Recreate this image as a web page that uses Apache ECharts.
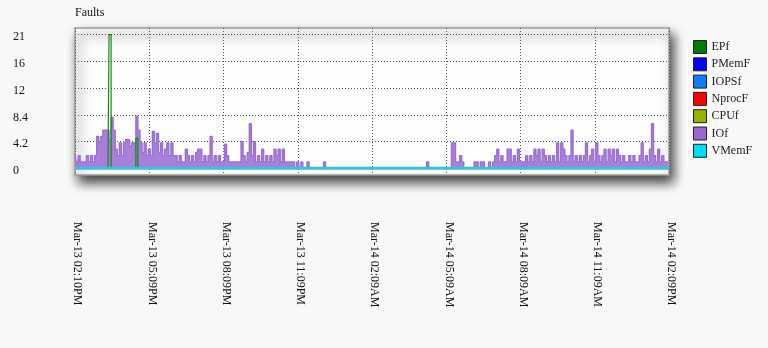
<!DOCTYPE html>
<html>
<head>
<meta charset="utf-8">
<script src="https://cdn.jsdelivr.net/npm/echarts@6/dist/echarts.min.js"></script>
<style>
html,body{margin:0;padding:0;background:#f8f8f8;}
#chart{width:768px;height:348px;}
</style>
</head>
<body>
<div id="chart"></div>
<script>
const chartTitle = 'Faults';
const seriesNames = ['EPf', 'PMemF', 'IOPSf', 'NprocF', 'CPUf', 'IOf', 'VMemF'];
const timeLabels = ['Mar-13 02:10PM', 'Mar-13 05:09PM', 'Mar-13 08:09PM', 'Mar-13 11:09PM',
  'Mar-14 02:09AM', 'Mar-14 05:09AM', 'Mar-14 08:09AM', 'Mar-14 11:09AM', 'Mar-14 02:09PM'];
const yTickLabels = ['0', '4.2', '8.4', '12', '16', '21'];

// one sample every 5 minutes, 289 samples (24 per line = 2 hours)
const EPf = [
  0,0,0,0,0,0,0,0,0,0,0,0, 0,0,0,0,0,21,0,0,0,0,0,0,
  0,0,0,0,0,0,4.7,0,0,0,0,0, 0,0,0,0,0,0,0,0,0,0,0,0,
  0,0,0,0,0,0,0,0,0,0,0,0, 0,0,0,0,0,0,0,0,0,0,0,0,
  0,0,0,0,0,0,0,0,0,0,0,0, 0,0,0,0,0,0,0,0,0,0,0,0,
  0,0,0,0,0,0,0,0,0,0,0,0, 0,0,0,0,0,0,0,0,0,0,0,0,
  0,0,0,0,0,0,0,0,0,0,0,0, 0,0,0,0,0,0,0,0,0,0,0,0,
  0,0,0,0,0,0,0,0,0,0,0,0, 0,0,0,0,0,0,0,0,0,0,0,0,
  0,0,0,0,0,0,0,0,0,0,0,0, 0,0,0,0,0,0,0,0,0,0,0,0,
  0,0,0,0,0,0,0,0,0,0,0,0, 0,0,0,0,0,0,0,0,0,0,0,0,
  0,0,0,0,0,0,0,0,0,0,0,0, 0,0,0,0,0,0,0,0,0,0,0,0,
  0,0,0,0,0,0,0,0,0,0,0,0, 0,0,0,0,0,0,0,0,0,0,0,0,
  0,0,0,0,0,0,0,0,0,0,0,0, 0,0,0,0,0,0,0,0,0,0,0,0,
  0
];
const flatAtZero = [
  0,0,0,0,0,0,0,0,0,0,0,0, 0,0,0,0,0,0,0,0,0,0,0,0,
  0,0,0,0,0,0,0,0,0,0,0,0, 0,0,0,0,0,0,0,0,0,0,0,0,
  0,0,0,0,0,0,0,0,0,0,0,0, 0,0,0,0,0,0,0,0,0,0,0,0,
  0,0,0,0,0,0,0,0,0,0,0,0, 0,0,0,0,0,0,0,0,0,0,0,0,
  0,0,0,0,0,0,0,0,0,0,0,0, 0,0,0,0,0,0,0,0,0,0,0,0,
  0,0,0,0,0,0,0,0,0,0,0,0, 0,0,0,0,0,0,0,0,0,0,0,0,
  0,0,0,0,0,0,0,0,0,0,0,0, 0,0,0,0,0,0,0,0,0,0,0,0,
  0,0,0,0,0,0,0,0,0,0,0,0, 0,0,0,0,0,0,0,0,0,0,0,0,
  0,0,0,0,0,0,0,0,0,0,0,0, 0,0,0,0,0,0,0,0,0,0,0,0,
  0,0,0,0,0,0,0,0,0,0,0,0, 0,0,0,0,0,0,0,0,0,0,0,0,
  0,0,0,0,0,0,0,0,0,0,0,0, 0,0,0,0,0,0,0,0,0,0,0,0,
  0,0,0,0,0,0,0,0,0,0,0,0, 0,0,0,0,0,0,0,0,0,0,0,0,
  0
];
const PMemF = flatAtZero;
const IOPSf = flatAtZero;
const NprocF = flatAtZero;
const CPUf = flatAtZero;
const VMemF = flatAtZero;
const IOf = [
  2,1,2,1,1,1,2,1,2,1,2,5,        4,5,6,6,6,4.5,8,6,3,2,4,2,
  4,4.5,4.5,3.5,4,4,8.2,6,4,2.5,4,2, 3,2,5.8,4,5.5,2.5,4,2,3,4,2,4,
  2,2,1,2,1,1,3,2,1,2,1,2.5,      3,3,1,2,1,2,5,1,2,1,2,1,
  1,3.8,2,1,1,1,1,1,1,4.2,2,1,    2.5,7,2,4.2,1,2,1,3,1,2,1,2,
  1,3,2,3,1,3,1,1,1,1,1,0,        1,0,1,0,0,1,0,0,0,0,0,0,
  0,1,0,0,0,0,0,0,0,0,0,0,        0,0,0,0,0,0,0,0,0,0,0,0,
  0,0,0,0,0,0,0,0,0,0,0,0,        0,0,0,0,0,0,0,0,0,0,0,0,
  0,0,0,1,0,0,0,0,0,0,0,0,        0,0,0,4,4,1,1,2,1,0,0,0,
  0,0,1,1,0,1,1,0,0,1,0,1,        2,3,1,2,1,1,3,3,1,2,1,3,
  1,1,1,2,1,2,1,3,2,3,1,3,        2,1,2,1,2,1,4,1,4,3,2,1,
  2,6,1,2,1,2,1,2,4,1,2,3,        1,4,2,1,2,3,1,3,2,3,1,3,
  2,1,2,1,1,2,1,2,1,1,2,4,        1,2,1,3,7,2,1,3,1,2,1,1,
  1
];

const seriesValues = { EPf, PMemF, IOPSf, NprocF, CPUf, IOf, VMemF };
const legendColors = { EPf: '#007a00', PMemF: '#0000ff', IOPSf: '#0a7ff5', NprocF: '#ff0000', CPUf: '#93b300', IOf: '#9966cc', VMemF: '#00dcf5' };
const lineColors = { EPf: '#128a12', PMemF: '#0000ff', IOPSf: '#0a7ff5', NprocF: '#ff0000', CPUf: '#93b300', IOf: '#9a6ccf', VMemF: '#35c3df' };
const lineWidths = { EPf: 1.2, PMemF: 1, IOPSf: 1, NprocF: 1, CPUf: 1, IOf: 1.3, VMemF: 3 };
const zOrder = { EPf: 5, PMemF: 3, IOPSf: 3, NprocF: 3, CPUf: 3, IOf: 2, VMemF: 6 };

const serif = 'Liberation Serif';
const gridStyle = { color: '#555', type: [1, 2], width: 1 };

const series = seriesNames.map(name => {
  const s = {
    name: name,
    type: 'line',
    xAxisIndex: 1,
    yAxisIndex: 1,
    step: 'middle',
    showSymbol: false,
    clip: false,
    z: zOrder[name],
    itemStyle: { color: legendColors[name] },
    lineStyle: { color: lineColors[name], width: lineWidths[name] },
    data: seriesValues[name].map((v, i) => [i, v])
  };
  if (name === 'IOf') s.areaStyle = { color: '#a77fd8', opacity: 1 };
  return s;
});

const chart = echarts.init(document.getElementById('chart'), null, { renderer: 'canvas' });
chart.setOption({
  animation: false,
  backgroundColor: 'transparent',
  title: {
    text: chartTitle, left: 75, top: 7, padding: 0,
    textStyle: { fontFamily: serif, fontSize: 12, fontWeight: 'normal', color: '#111' }
  },
  legend: {
    data: seriesNames,
    orient: 'vertical',
    left: 693, top: 40, padding: 0,
    icon: 'rect',
    itemWidth: 13, itemHeight: 13, itemGap: 3.3,
    selectedMode: false,
    itemStyle: { borderColor: '#222', borderWidth: 1 },
    textStyle: { fontFamily: serif, fontSize: 12, color: '#222' }
  },
  grid: [
    { left: 75, top: 28, width: 594, height: 147, show: true, z: -1,
      backgroundColor: '#fdfdfd', borderColor: '#9a9a9a', borderWidth: 1.5,
      shadowColor: 'rgba(0,0,0,0.75)', shadowBlur: 11, shadowOffsetX: 4, shadowOffsetY: 7 },
    { left: 75, top: 34.7, width: 594, height: 133.6 }
  ],
  xAxis: [
    { gridIndex: 0, type: 'value', min: 0, max: 288, interval: 36,
      axisLine: { show: false }, axisTick: { show: false },
      splitLine: { show: true, lineStyle: gridStyle },
      axisLabel: { rotate: -90, margin: 47, fontFamily: serif, fontSize: 12, color: '#111',
        verticalAlign: 'bottom', lineHeight: 5,
        formatter: v => timeLabels[Math.round(v / 36)] } },
    { gridIndex: 1, type: 'value', min: 0, max: 288, show: false }
  ],
  yAxis: [
    { gridIndex: 0, type: 'value', min: 0, max: 1, show: false },
    { gridIndex: 1, type: 'value', min: 0, max: 21, interval: 4.2,
      axisLine: { show: false }, axisTick: { show: false },
      splitLine: { show: true, lineStyle: gridStyle },
      axisLabel: { align: 'left', margin: 62, fontFamily: serif, fontSize: 12, color: '#111',
        verticalAlign: 'top', lineHeight: 5,
        formatter: v => yTickLabels[Math.round(v / 4.2)] } }
  ],
  series: series
});
</script>
</body>
</html>
